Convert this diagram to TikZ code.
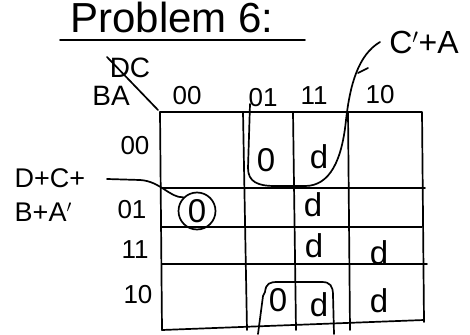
\documentclass[tikz,border=0pt]{standalone}
\usepackage{fontspec}
\setmainfont{Liberation Sans}
\begin{document}
\begin{tikzpicture}[x=1pt,y=-1pt,line width=1.7pt,line cap=round,line join=round]
\tikzset{
  lbl/.style={inner sep=0pt,font=\fontsize{26}{30}\selectfont},
  cellv/.style={inner sep=0pt,font=\fontsize{33}{35}\selectfont},
  loop/.style={line width=1.7pt}
}
\useasboundingbox (0,0) rectangle (470,334);
% title
\node[inner sep=0pt,font=\fontsize{42}{44}\selectfont] (title) at (172,17) {Problem 6:};
\draw (60,40) -- (305,40);
% corner labels
\node[lbl,font=\fontsize{28}{30}\selectfont] (dc) at (130,68) {DC};
\node[lbl,font=\fontsize{28}{30}\selectfont] (ba) at (111,96) {BA};
\draw (107,57) -- (158,110);
% column labels
\node[lbl] (c00) at (187,96) {00};
\node[lbl] (c01) at (263,98) {01};
\node[lbl] (c11) at (314,96) {11};
\node[lbl] (c10) at (380,95) {10};
% row labels
\node[lbl] (r00) at (135,146) {00};
\node[lbl] (r01) at (132,210) {01};
\node[lbl] (r11) at (135,250) {11};
\node[lbl] (r10) at (138,295) {10};
% grid
\draw (160,112) -- (422,112) -- (424,322);
\draw (160,112) -- (162,330);
\draw (243,112) -- (247,330);
\draw (293,112) -- (296,330);
\draw (348,112) -- (350,330);
\draw (162,188) -- (425,188);
\draw (162,227) -- (422,227);
\draw (162,264) -- (427,264);
\draw (162,330) -- (424,320);
% cell values
\node[cellv] (v1) at (266,160) {0};
\node[cellv] (v2) at (319,157) {d};
\node[cellv] (v3) at (197,211) {0};
\node[cellv] (v4) at (313,205) {d};
\node[cellv] (v5) at (314,246) {d};
\node[cellv] (v6) at (379,253) {d};
\node[cellv] (v7) at (278,300) {0};
\node[cellv] (v8) at (319,305) {d};
\node[cellv] (v9) at (379,301) {d};
% circle around the 0
\node[draw,circle,minimum size=37pt,inner sep=0pt,line width=1.7pt] (circ) at (197,211) {};
% side labels
\node[lbl,font=\fontsize{27}{34}\selectfont,align=left] (dcba) at (50,195) {D+C+\\B+A$'$};
\node[lbl,font=\fontsize{32}{34}\selectfont] (cpa) at (424,42) {C$'$+A};
% loops
\draw[loop] (250,104) -- (248,168) .. controls (248,182) and (258,186) .. (275,186)
  -- (305,186) .. controls (330,186) and (342,160) .. (346,120)
  .. controls (350,85) and (358,55) .. (380,42);
\draw (358,73) -- (368,68);
\draw[loop] (258,334) -- (263,296) -- (265,292) .. controls (266,283) and (270,282) .. (278,282)
  -- (322,282) .. controls (330,282) and (333,286) .. (333,295) -- (334,334);
% leader to circled 0
\draw (107,179) -- (140,180) .. controls (160,181) and (170,198) .. (circ.north west);
\end{tikzpicture}
\end{document}
